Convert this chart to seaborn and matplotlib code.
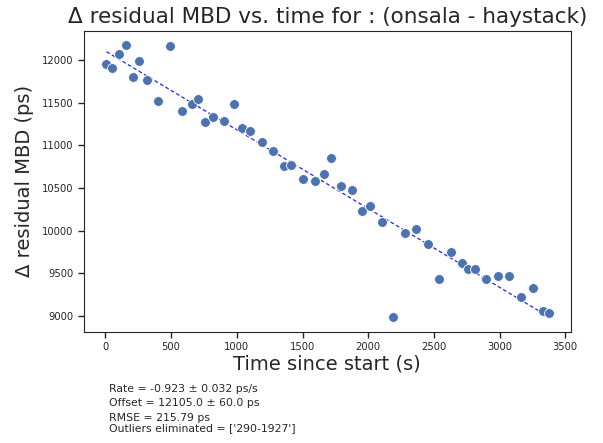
import numpy as np
import pandas as pd
import matplotlib
matplotlib.use("Agg")
import matplotlib.pyplot as plt
import seaborn as sns

# Data
time_s = [8, 53, 104, 157, 210, 259, 317, 401, 490, 581, 660, 708, 756, 815,
          903, 979, 1040, 1101, 1190, 1274, 1360, 1411, 1503, 1592, 1663, 1718,
          1790, 1878, 1954, 2015, 2104, 2188, 2279, 2363, 2452, 2541, 2628,
          2711, 2757, 2815, 2899, 2990, 3074, 3163, 3252, 3331, 3376]
mbd_ps = [11950, 11903, 12067, 12179, 11801, 11985, 11766, 11516, 12161, 11406,
          11481, 11543, 11277, 11328, 11285, 11481, 11203, 11168, 11039, 10937,
          10761, 10769, 10605, 10578, 10660, 10848, 10523, 10477, 10234, 10286,
          10101, 8988, 9973, 10023, 9844, 9430, 9750, 9621, 9547, 9554, 9430,
          9472, 9465, 9226, 9328, 9062, 9031]
rate = -0.923
rate_err = 0.032
offset = 12105.0
offset_err = 60.0
rmse = 215.79
outliers = ['290-1927']

title = "Δ residual MBD vs. time for : (onsala - haystack)"
xlabel = "Time since start (s)"
ylabel = "Δ residual MBD (ps)"

sns.set_style("ticks")
plt.rcParams['font.family'] = ['DejaVu Sans']

df = pd.DataFrame({"t": time_s, "mbd": mbd_ps})

fig = plt.figure(figsize=(6.03, 4.43), dpi=100)
ax = fig.add_axes([84 / 603, 1 - 331.7 / 443, (570.7 - 84) / 603, (331.7 - 31) / 443])

sns.scatterplot(data=df, x="t", y="mbd", ax=ax, color="#4C72B0", s=50,
                edgecolor="white", linewidth=0.6, zorder=3)

fit_t = np.array([min(time_s), max(time_s)])
ax.plot(fit_t, offset + rate * fit_t, color="#2222ff", linestyle="--",
        linewidth=0.9, dashes=(3, 2), zorder=2)

ax.set_xlim(-163, 3541)
ax.set_ylim(8816, 12340)
ax.set_xticks([0, 500, 1000, 1500, 2000, 2500, 3000, 3500])
ax.set_yticks([9000, 9500, 10000, 10500, 11000, 11500, 12000])
ax.tick_params(labelsize=7.2, length=4, width=1, colors=".15")
ax.set_xlabel(xlabel, fontsize=14, color=".15", labelpad=2)
ax.set_ylabel(ylabel, fontsize=14, color=".15", labelpad=6)
ax.set_title(title, fontsize=15.5, color=".15", pad=6)

txt_kw = dict(fontsize=7.8, color=".15", va="center", ha="left")
fig.text(109 / 603, 1 - 389 / 443, f"Rate = {rate:.3f} ± {rate_err:.3f} ps/s", **txt_kw)
fig.text(109 / 603, 1 - 403.5 / 443, f"Offset = {offset:.1f} ± {offset_err:.1f} ps", **txt_kw)
fig.text(109 / 603, 1 - 418 / 443, f"RMSE = {rmse:.2f} ps", **txt_kw)
fig.text(109 / 603, 1 - 428.5 / 443, f"Outliers eliminated = {outliers}", **txt_kw)

fig.savefig("out.png", dpi=100)
